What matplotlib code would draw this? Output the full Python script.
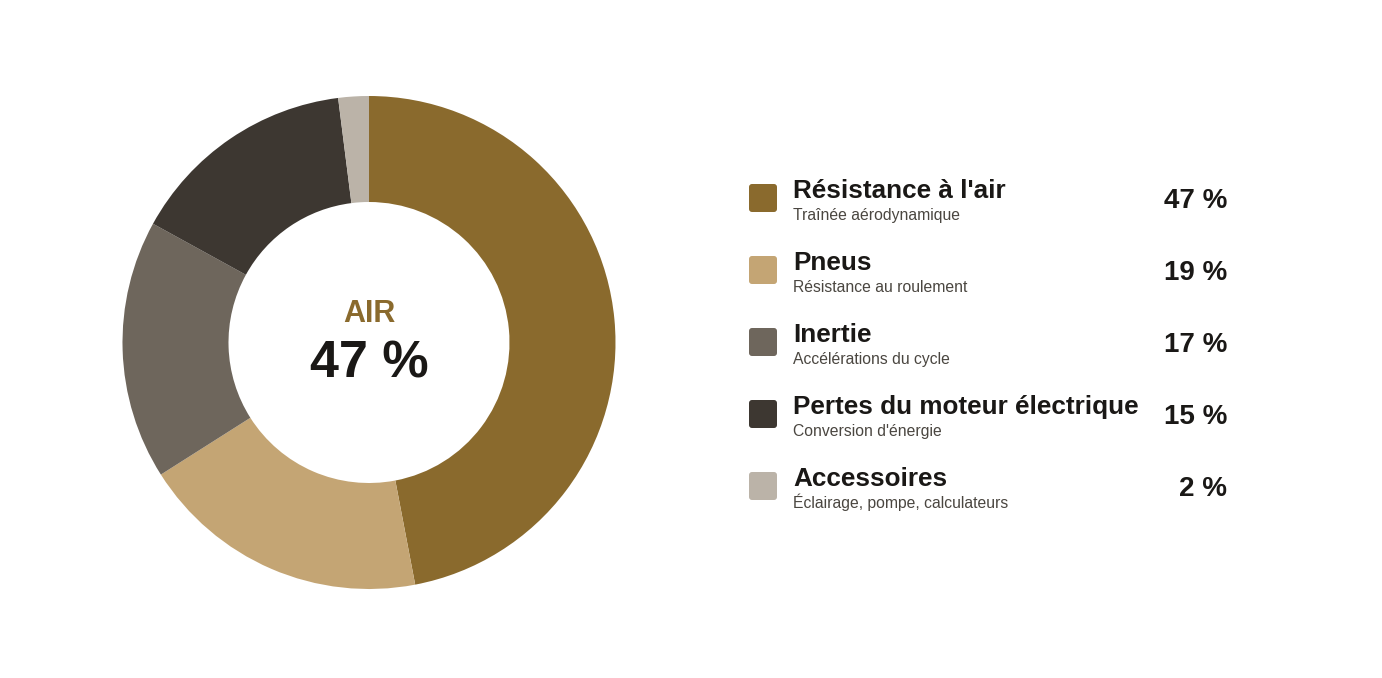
import matplotlib
matplotlib.use('Agg')
import matplotlib.pyplot as plt
from matplotlib.patches import FancyBboxPatch

W, H = 1382, 678

categories = ["Résistance à l'air", "Pneus", "Inertie",
              "Pertes du moteur électrique", "Accessoires"]
subtitles = ["Traînée aérodynamique", "Résistance au roulement",
             "Accélérations du cycle", "Conversion d'énergie",
             "Éclairage, pompe, calculateurs"]
shares = [47, 19, 17, 15, 2]
colors = ['#8a6a2d', '#c4a574', '#6e665c', '#3d3731', '#bbb3a8']

plt.rcParams['font.family'] = ['Liberation Sans', 'DejaVu Sans']

fig = plt.figure(figsize=(W / 100, H / 100), dpi=100)
ax = fig.add_axes([0, 0, 1, 1])
ax.set_xlim(0, W)
ax.set_ylim(0, H)
ax.set_aspect('equal')
ax.axis('off')

# donut, centre given in pixel coords (y from top)
cx, cy = 369, 342.5
r_out, r_in = 246.5, 140.5
ax.pie(shares, colors=colors, startangle=90, counterclock=False,
       center=(cx, H - cy), radius=r_out,
       wedgeprops=dict(width=r_out - r_in, linewidth=0))
ax.set_xlim(0, W)
ax.set_ylim(0, H)

ax.text(cx, H - 322, 'AIR', ha='center', va='baseline',
        fontsize=22, fontweight='bold', color=colors[0])
ax.text(cx, H - 377, f'{shares[0]} %', ha='center', va='baseline',
        fontsize=37.5, fontweight='bold', color='#1a1816')

# legend rows
for i, (cat, sub, val, col) in enumerate(zip(categories, subtitles, shares, colors)):
    yc = 198 + 72 * i
    box = FancyBboxPatch((749, H - yc - 14), 28, 28,
                         boxstyle='round,pad=0,rounding_size=3',
                         facecolor=col, edgecolor='none')
    ax.add_patch(box)
    ax.text(793, H - yc, cat, ha='left', va='baseline',
            fontsize=18.8, fontweight='bold', color='#1a1816')
    ax.text(793, H - (yc + 22), sub, ha='left', va='baseline',
            fontsize=11.3, color='#4a4640')
    ax.text(1227, H - (yc + 10), f'{val} %', ha='right', va='baseline',
            fontsize=20, fontweight='bold', color='#1a1816')

fig.savefig('out.png', dpi=100, facecolor='white')
